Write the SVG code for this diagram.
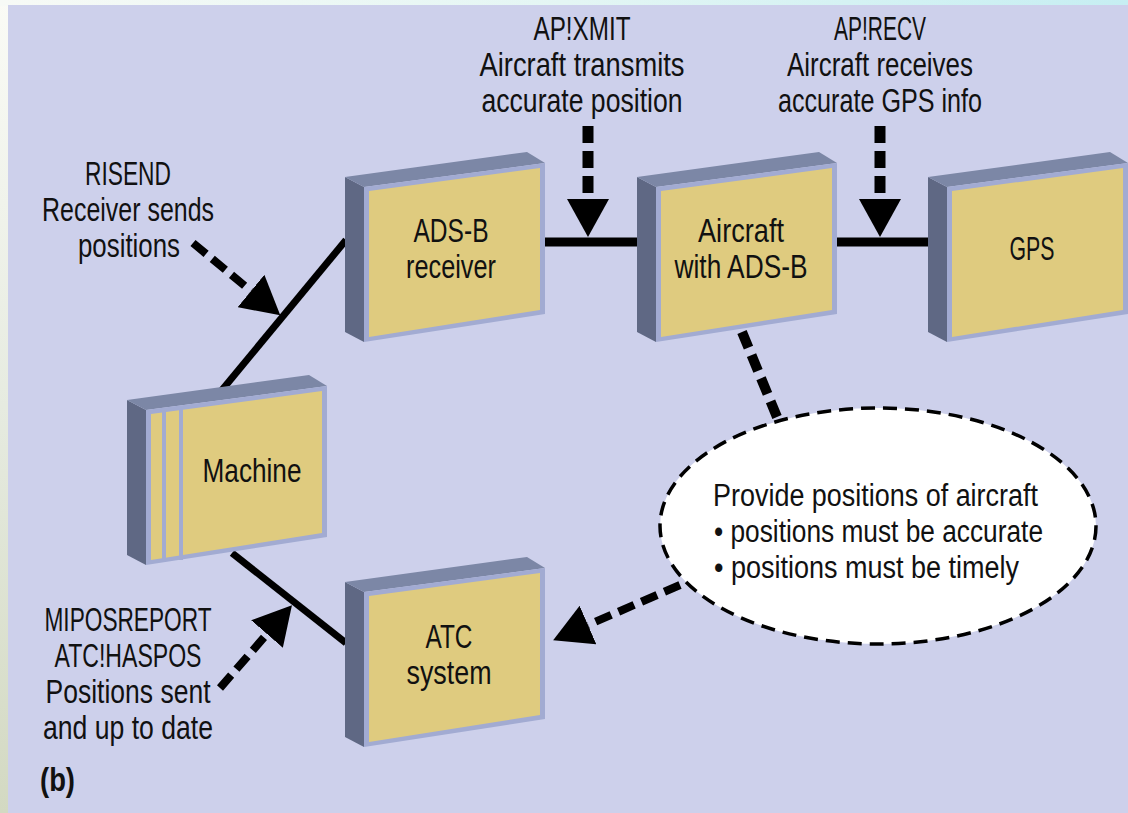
<svg xmlns="http://www.w3.org/2000/svg" xmlns:xlink="http://www.w3.org/1999/xlink" width="1128" height="813" viewBox="0 0 1128 813">
  <defs>
    <linearGradient id="topBand" x1="0" y1="0" x2="1" y2="0">
      <stop offset="0" stop-color="#f7faf6"/>
      <stop offset="0.5" stop-color="#e4f6f4"/>
      <stop offset="1" stop-color="#c6eef2"/>
    </linearGradient>
    <linearGradient id="leftBand" x1="0" y1="0" x2="0" y2="1">
      <stop offset="0" stop-color="#fafbf6"/>
      <stop offset="0.5" stop-color="#e6ebe0"/>
      <stop offset="1" stop-color="#d3d9c2"/>
    </linearGradient>
    <!-- slab shape: origin = top-left corner of the front face -->
    <g id="slab">
      <path d="M-19,-10 L0,0 L0,155 L-19,145 Z" fill="#5f6884"/>
      <path d="M-19,-10 L163,-35 L181,-24 L0,0 Z" fill="#7c87a6"/>
      <path d="M0,0 L181,-24 L181,127 L0,155 Z" fill="#a2abd2"/>
      <path d="M5,4 L176,-19 L176,123 L5,150 Z" fill="#dfcb7f"/>
    </g>
    <marker id="head" viewBox="0 0 38 42" markerWidth="38" markerHeight="42" refX="0" refY="21" orient="auto" markerUnits="userSpaceOnUse">
      <path d="M0,0 L38,21 L0,42 Z" fill="#000"/>
    </marker>
    <style>
      .t { font-family: "Liberation Sans", Arial, sans-serif; font-size: 33px; fill: #111; text-anchor: middle; }
      .e { font-family: "Liberation Sans", Arial, sans-serif; font-size: 31px; fill: #111; }
      .solid { stroke: #000; fill: none; stroke-linecap: butt; }
      .dash { stroke: #000; fill: none; stroke-dasharray: 17 8; }
    </style>
  </defs>

  <!-- page background -->
  <rect x="0" y="0" width="1128" height="813" fill="url(#leftBand)"/>
  <rect x="0" y="0" width="1128" height="6" fill="url(#topBand)"/>
  <rect x="8" y="5" width="1120" height="808" fill="#cdd0eb"/>

  <!-- connectors -->
  <g id="connectors">
    <path class="solid" d="M545,242 H637" stroke-width="9"/>
    <path class="solid" d="M837,242 H928" stroke-width="9"/>
    <path class="solid" d="M222,390 L346,240" stroke-width="7"/>
    <path class="solid" d="M232,553 L346,643" stroke-width="7"/>

    <path class="dash" d="M588,126 V199" stroke-width="11" marker-end="url(#head)"/>
    <path class="dash" d="M880,126 V199" stroke-width="11" marker-end="url(#head)"/>
    <path class="dash" d="M193,243 L251,291" stroke-width="8" marker-end="url(#head)"/>
    <path class="dash" d="M220,688 L267,634" stroke-width="8" marker-end="url(#head)"/>
    <path class="dash" d="M680,585 L588,625" stroke-width="8" marker-end="url(#head)"/>
    <path class="dash" d="M742,332 L777,417" stroke-width="10"/>
  </g>

  <!-- requirement ellipse -->
  <g id="node-requirement">
    <ellipse cx="878" cy="526" rx="218" ry="118" fill="#ffffff" stroke="#000" stroke-width="3.5" stroke-dasharray="14 8"/>
    <text class="e" x="713" y="506" textLength="325" lengthAdjust="spacingAndGlyphs">Provide positions of aircraft</text>
    <text class="e" x="714" y="542" textLength="329" lengthAdjust="spacingAndGlyphs">• positions must be accurate</text>
    <text class="e" x="714" y="578" textLength="305" lengthAdjust="spacingAndGlyphs">• positions must be timely</text>
  </g>

  <!-- ADS-B receiver -->
  <g id="node-adsb-receiver">
    <use xlink:href="#slab" x="364" y="187"/>
    <text class="t" x="451" y="242" textLength="75" lengthAdjust="spacingAndGlyphs">ADS-B</text>
    <text class="t" x="451" y="278" textLength="90" lengthAdjust="spacingAndGlyphs">receiver</text>
  </g>

  <!-- Aircraft with ADS-B -->
  <g id="node-aircraft">
    <use xlink:href="#slab" x="656" y="187"/>
    <text class="t" x="741" y="242" textLength="86" lengthAdjust="spacingAndGlyphs">Aircraft</text>
    <text class="t" x="741" y="278" textLength="133" lengthAdjust="spacingAndGlyphs">with ADS-B</text>
  </g>

  <!-- GPS -->
  <g id="node-gps">
    <use xlink:href="#slab" x="947" y="187"/>
    <text class="t" x="1032" y="260" textLength="45" lengthAdjust="spacingAndGlyphs">GPS</text>
  </g>

  <!-- Machine -->
  <g id="node-machine">
    <use xlink:href="#slab" x="146" y="410"/>
    <path d="M164,411 V562 M181,409 V560" stroke="#a2abd2" stroke-width="4"/>
    <text class="t" x="252" y="482" textLength="99" lengthAdjust="spacingAndGlyphs">Machine</text>
  </g>

  <!-- ATC system -->
  <g id="node-atc">
    <use xlink:href="#slab" x="364" y="592"/>
    <text class="t" x="449" y="648" textLength="47" lengthAdjust="spacingAndGlyphs">ATC</text>
    <text class="t" x="449" y="684" textLength="85" lengthAdjust="spacingAndGlyphs">system</text>
  </g>

  <!-- phenomenon labels -->
  <g id="label-xmit">
    <text class="t" x="582" y="40" textLength="97" lengthAdjust="spacingAndGlyphs">AP!XMIT</text>
    <text class="t" x="582" y="76" textLength="205" lengthAdjust="spacingAndGlyphs">Aircraft transmits</text>
    <text class="t" x="582" y="112" textLength="201" lengthAdjust="spacingAndGlyphs">accurate position</text>
  </g>
  <g id="label-recv">
    <text class="t" x="880" y="40" textLength="92" lengthAdjust="spacingAndGlyphs">AP!RECV</text>
    <text class="t" x="880" y="76" textLength="186" lengthAdjust="spacingAndGlyphs">Aircraft receives</text>
    <text class="t" x="880" y="112" textLength="204" lengthAdjust="spacingAndGlyphs">accurate GPS info</text>
  </g>
  <g id="label-risend">
    <text class="t" x="128" y="185" textLength="86" lengthAdjust="spacingAndGlyphs">RISEND</text>
    <text class="t" x="128" y="221" textLength="172" lengthAdjust="spacingAndGlyphs">Receiver sends</text>
    <text class="t" x="129" y="257" textLength="102" lengthAdjust="spacingAndGlyphs">positions</text>
  </g>
  <g id="label-miposreport">
    <text class="t" x="128" y="631" textLength="167" lengthAdjust="spacingAndGlyphs">MIPOSREPORT</text>
    <text class="t" x="128" y="667" textLength="147" lengthAdjust="spacingAndGlyphs">ATC!HASPOS</text>
    <text class="t" x="128" y="703" textLength="165" lengthAdjust="spacingAndGlyphs">Positions sent</text>
    <text class="t" x="128" y="739" textLength="170" lengthAdjust="spacingAndGlyphs">and up to date</text>
  </g>
  <text x="40" y="791" font-family="Liberation Sans, Arial, sans-serif" font-weight="bold" font-size="34" fill="#111" textLength="35" lengthAdjust="spacingAndGlyphs">(b)</text>
</svg>
